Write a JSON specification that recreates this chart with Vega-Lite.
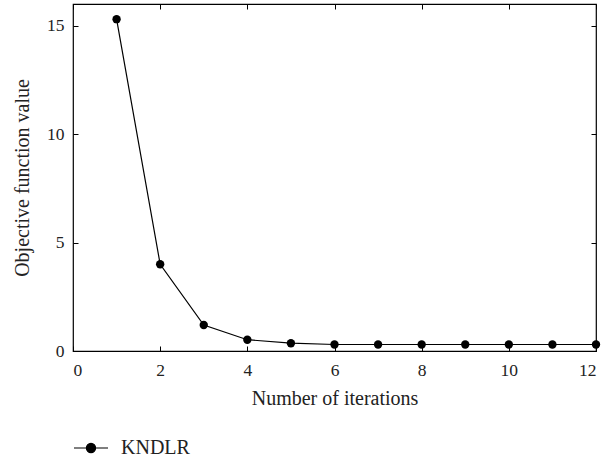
{
  "$schema": "https://vega.github.io/schema/vega-lite/v6.json",
  "width": 523,
  "height": 347,
  "autosize": {"type": "none"},
  "padding": {"left": 73, "top": 4, "right": 16, "bottom": 111},
  "background": "white",
  "config": {
    "font": "Liberation Serif",
    "view": {"stroke": "black", "strokeWidth": 1.2}
  },
  "datasets": {
    "curve": [
      {"iter": 1, "value": 15.3, "series": "KNDLR"},
      {"iter": 2, "value": 4.0, "series": "KNDLR"},
      {"iter": 3, "value": 1.2, "series": "KNDLR"},
      {"iter": 4, "value": 0.52, "series": "KNDLR"},
      {"iter": 5, "value": 0.36, "series": "KNDLR"},
      {"iter": 6, "value": 0.3, "series": "KNDLR"},
      {"iter": 7, "value": 0.3, "series": "KNDLR"},
      {"iter": 8, "value": 0.3, "series": "KNDLR"},
      {"iter": 9, "value": 0.3, "series": "KNDLR"},
      {"iter": 10, "value": 0.3, "series": "KNDLR"},
      {"iter": 11, "value": 0.3, "series": "KNDLR"},
      {"iter": 12, "value": 0.3, "series": "KNDLR"}
    ]
  },
  "data": {"name": "curve"},
  "resolve": {"axis": {"x": "independent", "y": "independent"}},
  "layer": [
    {
      "mark": {"type": "line", "strokeWidth": 1.2, "color": "black", "point": {"filled": true, "size": 70, "opacity": 1, "color": "black"}},
      "encoding": {
        "x": {
          "field": "iter", "type": "quantitative",
          "scale": {"domain": [0, 12], "nice": false},
          "axis": {
            "orient": "bottom", "values": [0, 2, 4, 6, 8, 10, 12],
            "grid": false, "domain": false, "offset": -5,
            "ticks": true, "tickSize": 5, "tickColor": "black", "tickWidth": 1, "tickOpacity": 1, "tickOffset": 0,
            "labelFont": "Liberation Serif", "labelFontSize": 17.5, "labelColor": "#222", "labelPadding": 10,
            "title": "Number of iterations", "titleFont": "Liberation Serif", "titleFontSize": 20, "titleFontWeight": "normal", "titleColor": "#222", "titlePadding": 10
          }
        },
        "y": {
          "field": "value", "type": "quantitative",
          "scale": {"domain": [0, 16], "nice": false},
          "axis": {
            "orient": "left", "values": [0, 5, 10, 15],
            "grid": false, "domain": false, "offset": -5,
            "ticks": true, "tickSize": 5, "tickColor": "black", "tickWidth": 1, "tickOpacity": 1, "tickOffset": 0,
            "labelFont": "Liberation Serif", "labelFontSize": 17.5, "labelColor": "#222", "labelPadding": 9,
            "title": "Objective function value", "titleFont": "Liberation Serif", "titleFontSize": 20, "titleFontWeight": "normal", "titleColor": "#222", "titlePadding": 14
          }
        },
        "color": {
          "field": "series", "type": "nominal",
          "scale": {"range": ["black"]},
          "legend": {
            "title": null,
            "orient": "none",
            "legendX": 0,
            "legendY": 426,
            "padding": 0,
            "symbolType": "M-1,0H1M-0.27,0A0.27,0.27 0 1,0 0.27,0A0.27,0.27 0 1,0 -0.27,0Z",
            "symbolSize": 1156,
            "symbolStrokeWidth": 1.2,
            "labelFont": "Liberation Serif",
            "labelFontSize": 20,
            "labelColor": "#222",
            "labelOffset": 12,
            "encode": {"symbols": {"update": {"fill": {"value": "black"}, "stroke": {"value": "black"}, "opacity": {"value": 1}}}}
          }
        }
      }
    },
    {
      "mark": {"type": "line", "opacity": 0},
      "encoding": {
        "x": {
          "field": "iter", "type": "quantitative",
          "axis": {
            "orient": "top", "values": [0, 2, 4, 6, 8, 10, 12], "labels": false, "title": null,
            "grid": false, "domain": false, "offset": -5,
            "ticks": true, "tickSize": 5, "tickColor": "black", "tickWidth": 1, "tickOpacity": 1, "tickOffset": 0
          }
        },
        "y": {
          "field": "value", "type": "quantitative",
          "axis": {
            "orient": "right", "values": [0, 5, 10, 15], "labels": false, "title": null,
            "grid": false, "domain": false, "offset": -5,
            "ticks": true, "tickSize": 5, "tickColor": "black", "tickWidth": 1, "tickOpacity": 1, "tickOffset": 0
          }
        }
      }
    }
  ]
}
